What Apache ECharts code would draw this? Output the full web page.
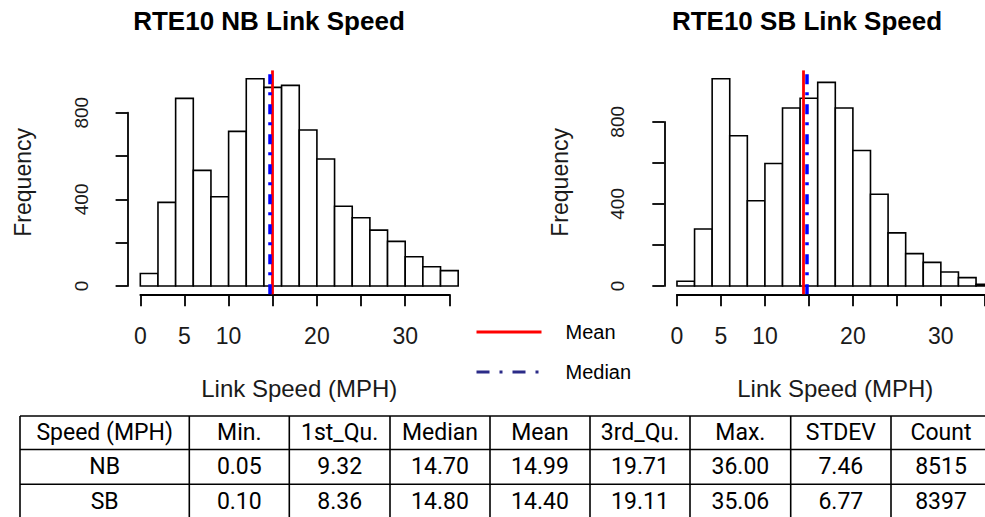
<!DOCTYPE html>
<html><head><meta charset="utf-8">
<script src="https://cdn.jsdelivr.net/npm/echarts@6/dist/echarts.min.js"></script>
<style>html,body{margin:0;padding:0;background:#fff}#c{width:985px;height:517px}</style>
</head><body><div id="c"></div>
<script>
// ---- data ----
const binEdges = [0,2,4,6,8,10,12,14,16,18,20,22,24,26,28,30,32,34,36];
const nbCounts = [58,386,866,534,412,714,957,917,926,720,586,368,315,258,206,135,89,71];
const sbCounts = [23,278,1010,732,415,597,867,915,992,867,660,447,259,158,115,68,41,8];
const xTicks = [0,5,10,15,20,25,30,35];
const xTickLabels = [0,5,10,20,30];
const yTicks = [0,200,400,600,800];
const yTickLabels = [0,400,800];
const tableHeader = ['Speed (MPH)','Min.','1st_Qu.','Median','Mean','3rd_Qu.','Max.','STDEV','Count'];
const nbRow = ['NB','0.05','9.32','14.70','14.99','19.71','36.00','7.46','8515'];
const sbRow = ['SB','0.10','8.36','14.80','14.40','19.11','35.06','6.77','8397'];
const legendNames = ['Mean','Median'];

// ---- layout ----
const FONT = 'Liberation Sans';
const plotTop = 70.4, plotH = 223.9;
const panels = [
  {title:'RTE10 NB Link Speed', titleX:269, counts:nbCounts, row:nbRow, left:127.6, width:343.3},
  {title:'RTE10 SB Link Speed', titleX:807, counts:sbCounts, row:sbRow, left:664.3, width:342}
];
const colEdges = [20,189.3,289.3,390,490,590,690,790.7,891,991];
const rowEdges = [416,449.5,484.3,519];
const medianDash = [10,9,3,8];

const grid = [], xAxis = [], yAxis = [], series = [], title = [];
const axisCol = '#000', lw = 1.8, txtCol = '#1a1a1a';
panels.forEach((p, i) => {
  const xr = binEdges[binEdges.length-1] - binEdges[0];
  const xmin = binEdges[0] - 0.04*xr, xmax = binEdges[binEdges.length-1] + 0.04*xr;
  const cmax = Math.max(...p.counts);
  const ymin = -0.04*cmax, ymax = 1.04*cmax;
  const pxX = p.width/(xmax-xmin), pxY = plotH/(ymax-ymin);
  const g0 = 3*i;
  grid.push({left:p.left, top:plotTop, width:p.width, height:plotH, outerBoundsMode:'none', containLabel:false});
  grid.push({left:p.left + (xTicks[0]-xmin)*pxX, top:plotTop, width:(xTicks[xTicks.length-1]-xTicks[0])*pxX, height:plotH, outerBoundsMode:'none', containLabel:false});
  grid.push({left:p.left, top:plotTop + (ymax - yTicks[yTicks.length-1])*pxY, width:20, height:(yTicks[yTicks.length-1]-yTicks[0])*pxY, outerBoundsMode:'none', containLabel:false});

  const hidden = {axisLine:{show:false}, axisTick:{show:false}, axisLabel:{show:false}, splitLine:{show:false}};
  xAxis.push(Object.assign({gridIndex:g0, type:'value', min:xmin, max:xmax, name:'Link Speed (MPH)', nameLocation:'middle', nameGap:82,
    nameTextStyle:{fontSize:24, color:txtCol, fontFamily:FONT}}, hidden));
  yAxis.push(Object.assign({gridIndex:g0, type:'value', min:ymin, max:ymax, name:'Frequency', nameLocation:'middle', nameGap:93,
    nameTextStyle:{fontSize:23, color:txtCol, fontFamily:FONT}}, hidden));
  xAxis.push({gridIndex:g0+1, type:'value', position:'bottom', min:xTicks[0], max:xTicks[xTicks.length-1], interval:xTicks[1]-xTicks[0],
    axisLine:{show:true, lineStyle:{color:axisCol, width:lw}}, axisTick:{show:true, length:12, lineStyle:{color:axisCol, width:lw}},
    splitLine:{show:false}, axisLabel:{show:true, margin:30, fontSize:23, color:txtCol, fontFamily:FONT, showMinLabel:true, showMaxLabel:true,
      formatter: v => xTickLabels.includes(v) ? String(v) : ''}});
  yAxis.push(Object.assign({gridIndex:g0+1, type:'value'}, hidden));
  xAxis.push(Object.assign({gridIndex:g0+2, type:'value'}, hidden));
  yAxis.push({gridIndex:g0+2, type:'value', position:'left', min:yTicks[0], max:yTicks[yTicks.length-1], interval:yTicks[1]-yTicks[0],
    axisLine:{show:true, lineStyle:{color:axisCol, width:lw}}, axisTick:{show:true, length:12, lineStyle:{color:axisCol, width:lw}},
    splitLine:{show:false}, axisLabel:{show:true, rotate:90, margin:37, fontSize:19, color:txtCol, fontFamily:FONT, showMinLabel:true, showMaxLabel:true,
      formatter: v => yTickLabels.includes(v) ? String(v) : ''}});

  const data = p.counts.map((c, k) => [binEdges[k], binEdges[k+1], c]);
  series.push({type:'custom', xAxisIndex:g0, yAxisIndex:g0, z:2, silent:true, data,
    encode:{x:[0,1], y:2},
    renderItem:(params, api) => {
      const a = api.coord([api.value(0), 0]);
      const b = api.coord([api.value(1), api.value(2)]);
      return {type:'rect', shape:{x:a[0], y:b[1], width:b[0]-a[0], height:a[1]-b[1]},
        style:{fill:'#fff', stroke:'#000', lineWidth:1.6}};
    }});
  const mean = parseFloat(p.row[tableHeader.indexOf('Mean')]);
  const median = parseFloat(p.row[tableHeader.indexOf('Median')]);
  series.push({type:'line', name:legendNames[0], xAxisIndex:g0, yAxisIndex:g0, z:3, symbol:'none', data:[],
    lineStyle:{color:'#ff0000', width:3, type:'solid'}, itemStyle:{color:'#ff0000'},
    markLine:{silent:true, symbol:['none','none'], label:{show:false}, animation:false,
      lineStyle:{color:'#ff0000', width:2.8, type:'solid'}, data:[{xAxis:mean}]}});
  series.push({type:'line', name:legendNames[1], xAxisIndex:g0, yAxisIndex:g0, z:4, symbol:'none', data:[],
    lineStyle:{color:'#0000ff', width:3, type:medianDash}, itemStyle:{color:'#0000ff'},
    markLine:{silent:true, symbol:['none','none'], label:{show:false}, animation:false,
      lineStyle:{color:'#0000ff', width:3.5, type:medianDash}, data:[{xAxis:median}]}});

  title.push({text:p.title, left:p.titleX, top:8, padding:0, textAlign:'center',
    textStyle:{fontSize:26, fontWeight:'bold', color:'#000', fontFamily:FONT}});
});

// ---- table (graphic) ----
const graphic = [];
const tRows = [tableHeader, nbRow, sbRow];
const tl = {stroke:'#000', lineWidth:1.6};
rowEdges.forEach(y => graphic.push({type:'line', shape:{x1:colEdges[0], y1:y, x2:colEdges[colEdges.length-1], y2:y}, style:tl}));
colEdges.forEach(x => graphic.push({type:'line', shape:{x1:x, y1:rowEdges[0], x2:x, y2:rowEdges[rowEdges.length-1]}, style:tl}));
tRows.forEach((r, ri) => r.forEach((t, ci) => {
  graphic.push({type:'text', x:(colEdges[ci]+colEdges[ci+1])/2, y:(rowEdges[ri]+rowEdges[ri+1])/2,
    style:{text:t, fill:'#000', font:'23px Roboto', align:'center', verticalAlign:'middle'}});
}));

const hideSym = {color:'rgba(0,0,0,0)', borderWidth:0, opacity:0};
const chart = echarts.init(document.getElementById('c'), null, {renderer:'svg'});
chart.setOption({
  animation:false,
  backgroundColor:'#fff',
  textStyle:{fontFamily:FONT},
  title, grid, xAxis, yAxis, series, graphic,
  legend:{orient:'vertical', left:470, top:317, itemWidth:65, itemHeight:20, itemGap:20, selectedMode:false,
    textStyle:{fontSize:20, color:'#000', fontFamily:FONT, padding:[0,0,6,19]},
    data:[{name:legendNames[0], itemStyle:hideSym, lineStyle:{color:'#ff0000', width:3}},
          {name:legendNames[1], itemStyle:hideSym, lineStyle:{color:'#2b2b88', width:3, type:[13,10,3,10]}}]}
});
</script></body></html>
